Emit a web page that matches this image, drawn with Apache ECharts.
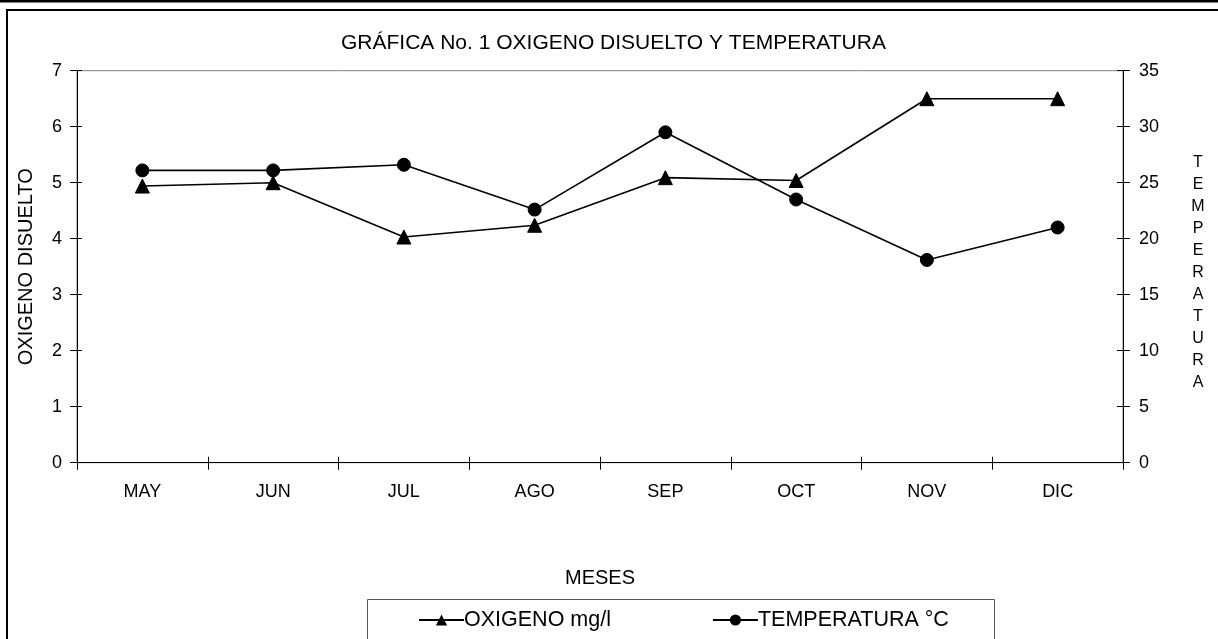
<!DOCTYPE html>
<html>
<head>
<meta charset="utf-8">
<script src="https://cdn.jsdelivr.net/npm/echarts@6/dist/echarts.min.js"></script>
<style>
html,body{margin:0;padding:0;background:#fff;}
#chart{width:1218px;height:639px;}
</style>
</head>
<body>
<div id="chart"></div>
<script>
const months = ['MAY','JUN','JUL','AGO','SEP','OCT','NOV','DIC'];
const oxigeno = [4.94, 5.0, 4.03, 4.24, 5.09, 5.04, 6.5, 6.5];
const temperatura = [26.1, 26.1, 26.6, 22.6, 29.5, 23.5, 18.1, 21.0];
const leftTicks = {min: 0, max: 7, interval: 1};
const rightTicks = {min: 0, max: 35, interval: 5};
const titleText = 'GRÁFICA No. 1 OXIGENO DISUELTO Y TEMPERATURA';
const seriesNames = ['OXIGENO mg/l', 'TEMPERATURA °C'];
const rightAxisName = 'TEMPERATURA';

const FONT = 'Liberation Sans, Arial, sans-serif';
const chart = echarts.init(document.getElementById('chart'), null, {renderer: 'canvas'});

const hiddenCommon = {axisLine: {show: false}, axisLabel: {show: false}, splitLine: {show: false}};

chart.setOption({
  animation: false,
  backgroundColor: '#ffffff',
  textStyle: {fontFamily: FONT, color: '#000'},
  title: {
    text: titleText,
    left: 341,
    top: 33,
    padding: 0,
    textStyle: {fontFamily: FONT, fontSize: 21, fontWeight: 'normal', color: '#000'}
  },
  grid: {
    left: 77, right: 95, top: 70.7, bottom: 176.3,
    show: true, borderColor: '#808080', borderWidth: 1, backgroundColor: 'transparent'
  },
  legend: {
    data: seriesNames,
    left: 418,
    top: 609,
    itemWidth: 45,
    itemHeight: 14,
    itemGap: 101,
    padding: 0,
    textStyle: {fontFamily: FONT, fontSize: 21.5, color: '#000', padding: [0, 0, 0, -5]}
  },
  xAxis: [
    {
      type: 'category', data: months, position: 'bottom', boundaryGap: true,
      name: 'MESES', nameLocation: 'middle', nameGap: 106,
      nameTextStyle: {fontFamily: FONT, fontSize: 20, color: '#000'},
      axisLine: {show: true, lineStyle: {color: '#000', width: 1}},
      axisTick: {show: true, inside: false, length: 7, lineStyle: {color: '#000'}},
      axisLabel: {fontFamily: FONT, fontSize: 18, color: '#000', margin: 20},
      splitLine: {show: false}
    },
    Object.assign({
      type: 'category', data: months, position: 'bottom', boundaryGap: true,
      axisTick: {show: true, inside: true, length: 6, lineStyle: {color: '#000'}}
    }, hiddenCommon)
  ],
  yAxis: [
    {
      type: 'value', position: 'left', min: leftTicks.min, max: leftTicks.max, interval: leftTicks.interval,
      name: 'OXIGENO DISUELTO', nameLocation: 'middle', nameGap: 41, nameRotate: 90,
      nameTextStyle: {fontFamily: FONT, fontSize: 20, color: '#000'},
      axisLine: {show: true, lineStyle: {color: '#000', width: 1}},
      axisTick: {show: true, inside: false, length: 7, lineStyle: {color: '#000'}},
      axisLabel: {fontFamily: FONT, fontSize: 18, color: '#000', margin: 15},
      splitLine: {show: false}
    },
    {
      type: 'value', position: 'right', min: rightTicks.min, max: rightTicks.max, interval: rightTicks.interval,
      axisLine: {show: true, lineStyle: {color: '#000', width: 1}},
      axisTick: {show: true, inside: false, length: 7, lineStyle: {color: '#000'}},
      axisLabel: {fontFamily: FONT, fontSize: 18, color: '#000', margin: 16},
      splitLine: {show: false}
    },
    Object.assign({
      type: 'value', position: 'left', min: leftTicks.min, max: leftTicks.max, interval: leftTicks.interval,
      axisTick: {show: true, inside: true, length: 5, lineStyle: {color: '#000'}}
    }, hiddenCommon),
    Object.assign({
      type: 'value', position: 'right', min: rightTicks.min, max: rightTicks.max, interval: rightTicks.interval,
      axisTick: {show: true, inside: true, length: 6, lineStyle: {color: '#000'}}
    }, hiddenCommon)
  ],
  series: [
    {
      name: seriesNames[0], type: 'line', data: oxigeno, xAxisIndex: 0, yAxisIndex: 0,
      symbol: 'triangle', symbolSize: 14, showAllSymbol: true,
      lineStyle: {color: '#000', width: 1.6},
      itemStyle: {color: '#000', borderColor: '#000'}
    },
    {
      name: seriesNames[1], type: 'line', data: temperatura, xAxisIndex: 0, yAxisIndex: 1,
      symbol: 'circle', symbolSize: 13, showAllSymbol: true,
      lineStyle: {color: '#000', width: 1.6},
      itemStyle: {color: '#000', borderColor: '#000'}
    }
  ],
  graphic: [
    {type: 'rect', shape: {x: 0, y: 0, width: 1218, height: 2.5}, style: {fill: '#000'}, silent: true},
    {type: 'rect', shape: {x: 7, y: 10, width: 1240, height: 660}, style: {fill: 'none', stroke: '#000', lineWidth: 2}, silent: true},
    {type: 'rect', shape: {x: 367.5, y: 599.5, width: 627, height: 60}, style: {fill: 'none', stroke: '#555', lineWidth: 1}, silent: true},
    {type: 'text', x: 1198, y: 273, silent: true,
     style: {text: rightAxisName.split('').join('\n'), font: '16px ' + FONT, fill: '#000',
             lineHeight: 22, textAlign: 'center', textVerticalAlign: 'middle', align: 'center', verticalAlign: 'middle'}}
  ]
});
</script>
</body>
</html>
